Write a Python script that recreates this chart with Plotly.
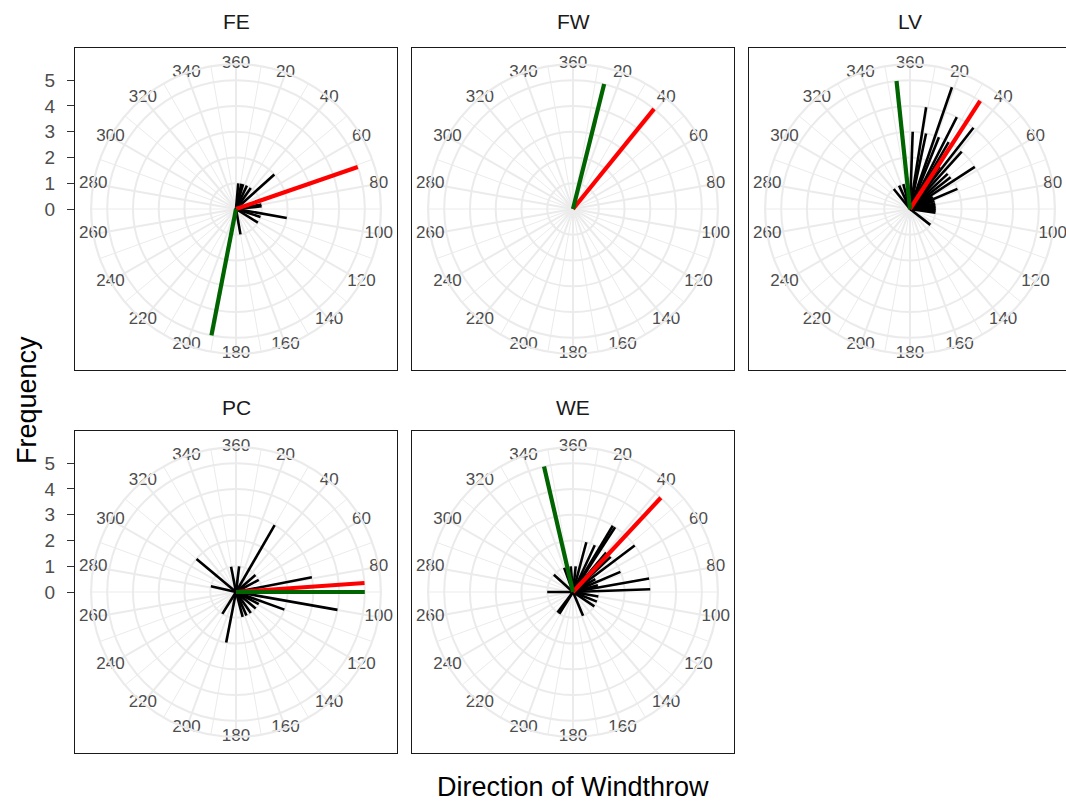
import plotly.graph_objects as go

W, H = 1066, 801

panels = ["FE", "FW", "LV", "PC", "WE"]

# black segments: windthrow direction (degrees) and frequency
fe_dir = [5, 12, 16, 25, 35, 48, 80, 84, 100, 108, 122, 170]
fe_freq = [1, 1, 1, 1, 1, 2, 1, 1, 2, 1, 1, 1]
fw_dir = []
fw_freq = []
lv_dir = [2, 9, 12, 19, 22, 27, 30, 35, 38, 42, 47, 52, 57, 62, 67, 72, 78, 83, 88, 93, 98, 128, 321, 335, 345, 355]
lv_freq = [3, 4, 3, 5, 3, 4, 3, 2, 4, 3, 2, 2, 3, 1, 2, 1, 1, 1, 1, 1, 1, 1, 1, 1, 1, 1]
pc_dir = [7, 30, 49, 62, 79, 88, 100, 110, 118, 130, 145, 156, 165, 191, 212, 283, 310, 349]
pc_freq = [1, 3, 1, 1, 3, 1, 4, 2, 1, 1, 1, 1, 1, 2, 1, 1, 2, 1]
we_dir = [6, 15, 25, 31, 33, 40, 47, 53, 60, 67, 75, 80, 88, 100, 112, 124, 157, 212, 217, 270, 312, 340, 355]
we_freq = [1, 2, 2, 3, 3, 2, 2, 3, 1, 2, 1, 3, 3, 1, 1, 1, 1, 1, 1, 1, 1, 1, 1]

# red and green reference directions (length 5)
red_dir = [71, 39, 33, 86, 43]
red_len = [5, 5, 5, 5, 5]
green_dir = [191, 14, 354, 90, 347]
green_len = [5, 5, 5, 5, 5]

black_dirs = [fe_dir, fw_dir, lv_dir, pc_dir, we_dir]
black_freqs = [fe_freq, fw_freq, lv_freq, pc_freq, we_freq]

theta_major = list(range(0, 360, 20))
theta_labels = ["360"] + [str(v) for v in range(20, 360, 20)]
theta_minor = list(range(10, 360, 20))
r_ticks = [0, 1, 2, 3, 4, 5]

# ---- layout geometry (pixels) ----
PS = 322
col_x = [75, 412, 749]
row_y = [48, 431]
title_y = [22, 407]
pos = [(0, 0), (0, 1), (0, 2), (1, 0), (1, 1)]
rmax_data = 5
r_outer = rmax_data * 0.45 / 0.4
px_per_unit = 0.4 * PS / rmax_data
half_units = (PS / 2) / px_per_unit

GRID = "#EBEBEB"
TXT = "#4D4D4D"
FONT = "Liberation Sans, Arial, sans-serif"

fig = go.Figure()
layout = dict(
    width=W, height=H, margin=dict(l=0, r=0, t=0, b=0),
    paper_bgcolor="white", plot_bgcolor="white", showlegend=False,
    font=dict(family=FONT),
)
annotations = []


def segs(dirs, lens):
    r, t = [], []
    for d, l in zip(dirs, lens):
        r += [0, l, None]
        t += [d, d, None]
    return r, t


for i, name in enumerate(panels):
    row, col = pos[i]
    x0 = col_x[col]
    y0 = row_y[row]
    cx = x0 + PS / 2
    cy = y0 + PS / 2
    hp = 0.45 * PS
    dom_x = [(cx - hp) / W, (cx + hp) / W]
    dom_y = [1 - (cy + hp) / H, 1 - (cy - hp) / H]

    # frame axes
    k = i + 1
    sfx = str(k) if k > 1 else ""
    xr = min(x0 + PS, W)
    layout["xaxis" + sfx] = dict(domain=[x0 / W, xr / W], range=[-1, 1], showgrid=False,
                                 zeroline=False, showticklabels=False, ticks="", showline=True,
                                 mirror=True, linecolor="#1A1A1A", linewidth=1,
                                 anchor="y" + sfx, fixedrange=True)
    left = col == 0
    layout["yaxis" + sfx] = dict(domain=[1 - (y0 + PS) / H, 1 - y0 / H],
                                 range=[-half_units, half_units], showgrid=False, zeroline=False,
                                 showline=True, mirror=(col != 2), linecolor="#1A1A1A",
                                 linewidth=1, anchor="x" + sfx,
                                 tickvals=r_ticks if left else [],
                                 ticks="outside" if left else "", ticklen=7,
                                 tickcolor="#333333", tickwidth=1.2, showticklabels=left,
                                 ticklabelstandoff=8,
                                 tickfont=dict(size=19, color=TXT, family=FONT),
                                 fixedrange=True)
    fig.add_trace(go.Scatter(x=[None], y=[None], xaxis="x" + sfx, yaxis="y" + sfx,
                             showlegend=False, hoverinfo="skip"))

    # minor-spoke polar (below)
    pa = "polar" + sfx
    layout[pa] = dict(
        domain=dict(x=dom_x, y=dom_y), bgcolor="white",
        radialaxis=dict(range=[0, r_outer], showgrid=False, showticklabels=False, ticks="",
                        showline=False),
        angularaxis=dict(rotation=90, direction="clockwise", tickvals=theta_minor,
                         showticklabels=False, ticks="", showgrid=True, gridcolor=GRID,
                         gridwidth=1.2, showline=False),
    )
    # main polar
    pb = f"polar{k + 5}"
    layout[pb] = dict(
        domain=dict(x=dom_x, y=dom_y), bgcolor="rgba(0,0,0,0)",
        radialaxis=dict(range=[0, r_outer], tickvals=r_ticks[1:], showticklabels=False,
                        ticks="", showline=False, showgrid=True, gridcolor=GRID, gridwidth=2.2),
        angularaxis=dict(rotation=90, direction="clockwise", tickvals=theta_major,
                         showticklabels=False, ticks="", showgrid=True, gridcolor=GRID,
                         gridwidth=2.2, showline=True, linecolor=GRID, linewidth=2.2),
    )
    fig.add_trace(go.Scatterpolar(r=[0], theta=[0], mode="markers",
                                  marker=dict(size=0.1, color="rgba(0,0,0,0)"),
                                  subplot=pa, showlegend=False, hoverinfo="skip"))

    r, t = segs(black_dirs[i], black_freqs[i])
    if r:
        fig.add_trace(go.Scatterpolar(r=r, theta=t, mode="lines", subplot=pb,
                                      line=dict(color="black", width=2.6), connectgaps=False,
                                      showlegend=False, hoverinfo="skip"))
    r, t = segs([red_dir[i]], [red_len[i]])
    fig.add_trace(go.Scatterpolar(r=r, theta=t, mode="lines", subplot=pb,
                                  line=dict(color="#FF0000", width=4.2), showlegend=False,
                                  hoverinfo="skip"))
    r, t = segs([green_dir[i]], [green_len[i]])
    fig.add_trace(go.Scatterpolar(r=r, theta=t, mode="lines", subplot=pb,
                                  line=dict(color="#006400", width=4.2), showlegend=False,
                                  hoverinfo="skip"))
    # angular labels centred on the outer ring (ggplot style)
    fig.add_trace(go.Scatterpolar(r=[r_outer] * len(theta_major), theta=theta_major,
                                  text=theta_labels, mode="text", subplot=pb,
                                  textposition="middle center", cliponaxis=False,
                                  textfont=dict(size=17, color=TXT, family=FONT),
                                  showlegend=False, hoverinfo="skip"))

    annotations.append(dict(text=name, x=cx / W, y=1 - title_y[row] / H, xref="paper",
                            yref="paper", showarrow=False, xanchor="center", yanchor="middle",
                            font=dict(size=21, color="#1A1A1A", family=FONT)))

annotations.append(dict(text="Frequency", x=27 / W, y=1 - 400 / H, xref="paper", yref="paper",
                        showarrow=False, textangle=-90, xanchor="center", yanchor="middle",
                        font=dict(size=27, color="black", family=FONT)))
annotations.append(dict(text="Direction of Windthrow", x=573 / W, y=1 - 787 / H, xref="paper",
                        yref="paper", showarrow=False, xanchor="center", yanchor="middle",
                        font=dict(size=27, color="black", family=FONT)))
layout["annotations"] = annotations
fig.update_layout(**layout)

fig.write_html("out.html")
